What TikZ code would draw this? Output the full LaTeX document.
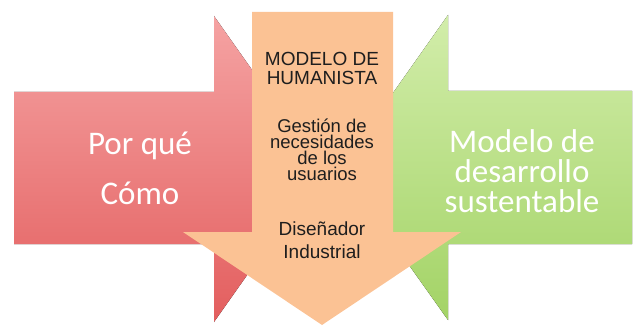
\documentclass[tikz,border=0pt]{standalone}
\usepackage{fontspec}
\setmainfont{Liberation Sans}
\newfontfamily\calib{Carlito}
\definecolor{redtop}{HTML}{F5A3A3}
\definecolor{redbot}{HTML}{E35E5E}
\definecolor{greentop}{HTML}{D2EDAA}
\definecolor{greenbot}{HTML}{A3D366}
\definecolor{orangefill}{HTML}{FBC294}
\definecolor{txtdark}{HTML}{1E1E1E}
\begin{document}
\begin{tikzpicture}[x=1pt,y=-1pt,
  wtxt/.style={text=white, anchor=south, inner sep=0pt, align=center},
  otxt/.style={text=txtdark, anchor=south, inner sep=0pt, align=center}]
\useasboundingbox (0,0) rectangle (636,326);
% red arrow (pointing right)
\fill[top color=redtop, bottom color=redbot]
  (14,92) -- (214,92) -- (214,16) -- (322,169) -- (214,322) -- (214,244) -- (14,244) -- cycle;
% green arrow (pointing left)
\fill[top color=greentop, bottom color=greenbot]
  (632,91) -- (448,91) -- (448,15) -- (340,168) -- (448,320) -- (448,244) -- (632,244) -- cycle;
% orange arrow (pointing down)
\fill[orangefill]
  (252,12) -- (393,12) -- (393,232) -- (461,232) -- (322,325) -- (183,232) -- (252,232) -- cycle;
% red text
\node[wtxt, font=\calib\fontsize{33}{50}\selectfont] (rtext) at (140,205) {Por qué\\Cómo};
% green text
\node[wtxt, font=\calib\fontsize{33}{30}\selectfont] (gtext) at (522,213) {Modelo de\\desarrollo\\sustentable};
% orange text
\node[otxt, font=\fontsize{19}{19}\selectfont] (otitle) at (322,84.5) {MODELO DE\\HUMANISTA};
\node[otxt, font=\fontsize{18.5}{16}\selectfont] (omid) at (322,181) {Gestión de\\necesidades\\de los\\usuarios};
\node[otxt, font=\fontsize{19}{23.5}\selectfont] (obot) at (322,259) {Diseñador\\Industrial};
\end{tikzpicture}
\end{document}
